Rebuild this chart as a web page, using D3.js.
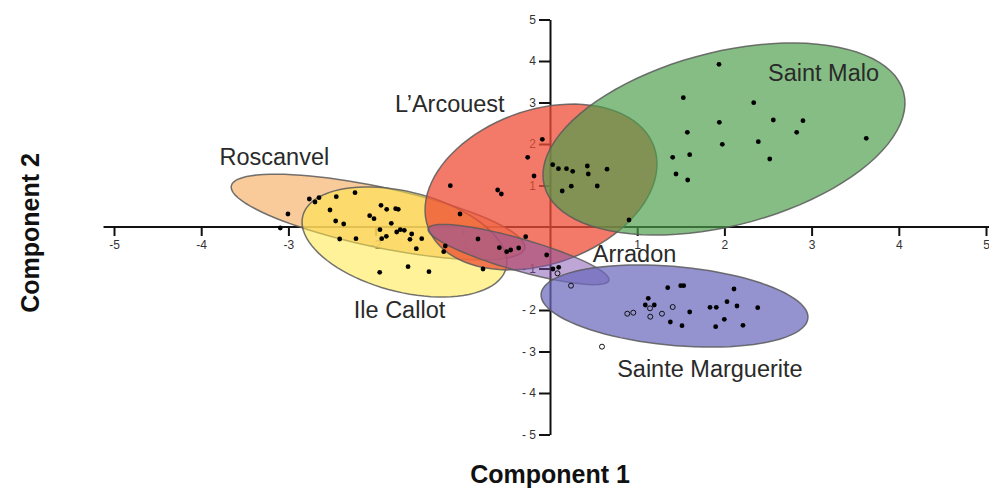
<!DOCTYPE html>
<html lang="en">
<head>
<meta charset="UTF-8">
<title>Component 1 / Component 2</title>
<script src="https://d3js.org/d3.v7.min.js"></script>
<style>
  body { margin: 0; background: #fff; }
  svg text { font-family: "Liberation Sans", Arial, sans-serif; }
</style>
</head>
<body>
<svg width="989" height="489"></svg>
<script>
// ---- data ----
var xTicks = [-5, -4, -3, -2, -1, 1, 2, 3, 4, 5];
var yTicks = [5, 4, 3, 2, 1, -1, -2, -3, -4, -5];

var sites = ['Roscanvel', 'Ile Callot', 'L\u2019Arcouest', 'Saint Malo', 'Arradon', 'Sainte Marguerite'];

// ellipse centre and the two half-axis vectors, in component units
var ellCentre = [[-1.972, 0.241], [-1.669, -0.361], [-0.103, 0.964], [1.995, 2.120], [-0.361, -0.663], [1.428, -1.904]];
var ellMajor  = [[1.683, -0.751], [1.166, -0.629], [1.297, 0.965], [2.061, 1.120], [1.036, -0.624], [1.530, -0.293]];
var ellMinor  = [[-0.0715, -0.707], [-0.143, -1.167], [0.295, -1.749], [0.249, -2.025], [-0.0506, -0.371], [-0.041, -0.946]];

var roscanvelPts = [[-3.005, 0.313], [-3.093, -0.024], [-2.760, 0.675], [-2.695, 0.602], [-2.649, 0.706], [-2.451, 0.730],
  [-2.236, 0.827], [-2.523, 0.410], [-2.458, 0.145], [-2.366, 0.072], [-1.938, 0.523], [-1.873, 0.427], [-1.770, 0.441],
  [-1.740, 0.427], [-2.068, 0.272], [-2.018, 0.200], [-1.820, 0.089]];
var callotPts = [[-1.950, -0.065], [-2.412, -0.289], [-2.225, -0.282], [-1.930, -0.282], [-1.877, -0.224], [-1.758, -0.120],
  [-1.717, -0.065], [-1.671, -0.080], [-1.586, -0.169], [-1.606, -0.296], [-1.471, -0.282], [-1.533, -0.523], [-1.201, -0.458],
  [-1.219, -0.595], [-1.953, -1.092], [-1.628, -0.957], [-1.388, -1.077], [-0.768, -1.012]];
var arcouestPts = [[-0.088, 2.113], [-0.256, 1.680], [-0.183, 1.229], [-1.143, 0.995], [-0.600, 0.892], [-0.558, 0.795],
  [0.031, 1.501], [0.097, 1.405], [0.189, 1.405], [0.260, 1.342], [0.428, 1.470], [0.439, 1.277], [0.654, 1.393],
  [0.244, 0.983], [0.140, 0.867], [0.542, 0.988], [-1.032, 0.313]];
var maloPts = [[1.938, 3.920], [1.529, 3.116], [2.336, 2.995], [1.942, 2.523], [2.561, 2.578], [2.901, 2.561], [1.575, 2.282],
  [2.829, 2.282], [3.627, 2.137], [2.389, 2.055], [1.976, 1.993], [1.407, 1.680], [1.602, 1.742], [2.520, 1.639],
  [1.445, 1.277], [1.579, 1.133], [0.906, 0.169]];
var arradonPts = [[-0.826, -0.289], [-0.581, -0.499], [-0.497, -0.595], [-0.451, -0.554], [-0.359, -0.506], [-0.279, -0.234],
  [-0.038, -0.675], [0.034, -1.012], [0.100, -0.971]];
var margueritePts = [[1.350, -1.463], [1.499, -1.414], [1.533, -1.414], [2.110, -1.494], [1.127, -1.718], [1.093, -1.880],
  [1.196, -1.880], [2.030, -1.800], [1.835, -1.935], [1.907, -1.935], [2.144, -1.904], [2.382, -1.945], [1.602, -2.048],
  [1.380, -2.289], [1.514, -2.378], [1.999, -2.224], [1.900, -2.402], [2.213, -2.369]];
var openPts = [[0.886, -2.089], [0.955, -2.065], [1.147, -1.959], [1.150, -2.161], [1.284, -2.089], [1.407, -1.928],
  [0.596, -2.884], [0.086, -1.116], [0.241, -1.414]];

// label anchor points (component units)
var labelPos = [[-3.79, 1.49], [-2.25, -2.19], [-0.52, 2.77], [2.50, 3.52], [0.49, -0.84], [0.77, -3.61]];
var labelAnchor = ['start', 'start', 'end', 'start', 'start', 'start'];

// ---- styles ----
var ellFill = ['#f7b878', '#ffe84a', '#ef4d35', '#4b9e4b', '#7e4fb0', '#6b68bd'];
var ellOpacity = [0.75, 0.56, 0.75, 0.68, 0.5, 0.72];

var svg = d3.select('svg');
var x = d3.scaleLinear().domain([-5, 5]).range([114, 986]);
var y = d3.scaleLinear().domain([-5, 5]).range([434.5, 19.5]);

// axes first, the ellipses are see-through over them
var axes = svg.append('g');
axes.append('line')
    .attr('x1', x(-5.12)).attr('x2', x(5.04))
    .attr('y1', y(0)).attr('y2', y(0))
    .attr('stroke', '#111').attr('stroke-width', 2);

var xAxis = d3.axisBottom(x).tickValues(xTicks).tickSize(9).tickPadding(4).tickFormat(d => String(d));
var xAxisG = axes.append('g').attr('transform', `translate(0,${y(0)})`).call(xAxis);
xAxisG.select('.domain').remove();

var yAxis = d3.axisLeft(y).tickValues(yTicks).tickSize(11).tickSizeOuter(0).tickPadding(3)
    .tickFormat(d => d < 0 ? '- ' + (-d) : String(d));
var yAxisG = axes.append('g').attr('transform', `translate(${x(0)},0)`).call(yAxis);

axes.selectAll('.domain, .tick line').attr('stroke', '#111').attr('stroke-width', 2);
axes.selectAll('.tick text').attr('fill', '#333').style('font-size', '12px');

// confidence ellipses
var line = d3.line().curve(d3.curveLinearClosed);
var ellipses = sites.map((s, i) => d3.range(90).map(k => {
    var t = k / 90 * 2 * Math.PI;
    var c = ellCentre[i], u = ellMajor[i], v = ellMinor[i];
    return [x(c[0] + Math.cos(t) * u[0] + Math.sin(t) * v[0]),
            y(c[1] + Math.cos(t) * u[1] + Math.sin(t) * v[1])];
}));

svg.append('g').selectAll('path').data(ellipses)
    .enter().append('path')
    .attr('d', line)
    .attr('fill', (d, i) => ellFill[i])
    .attr('fill-opacity', (d, i) => ellOpacity[i])
    .attr('stroke', '#5a5a5a')
    .attr('stroke-opacity', 0.85)
    .attr('stroke-width', 1.5);

// points
var filled = [].concat(roscanvelPts, callotPts, arcouestPts, maloPts, arradonPts, margueritePts);
svg.append('g').selectAll('circle').data(filled)
    .enter().append('circle')
    .attr('cx', d => x(d[0]))
    .attr('cy', d => y(d[1]))
    .attr('r', 2.4)
    .attr('fill', '#000');

svg.append('g').selectAll('circle').data(openPts)
    .enter().append('circle')
    .attr('cx', d => x(d[0]))
    .attr('cy', d => y(d[1]))
    .attr('r', 2.5)
    .attr('fill', 'none')
    .attr('stroke', '#111')
    .attr('stroke-width', 1);

// site names
svg.append('g').selectAll('text').data(sites)
    .enter().append('text')
    .attr('x', (d, i) => x(labelPos[i][0]))
    .attr('y', (d, i) => y(labelPos[i][1]))
    .attr('text-anchor', (d, i) => labelAnchor[i])
    .attr('fill', '#2a2a2a')
    .style('font-size', '23.5px')
    .text(d => d);

// axis titles
svg.append('text')
    .attr('x', x(0)).attr('y', 483)
    .attr('text-anchor', 'middle')
    .style('font-size', '25px').style('font-weight', 'bold')
    .attr('fill', '#111')
    .text('Component 1');

svg.append('text')
    .attr('transform', `translate(39,${y(0) + 6}) rotate(-90)`)
    .attr('text-anchor', 'middle')
    .style('font-size', '25px').style('font-weight', 'bold')
    .attr('fill', '#111')
    .text('Component 2');
</script>
</body>
</html>
